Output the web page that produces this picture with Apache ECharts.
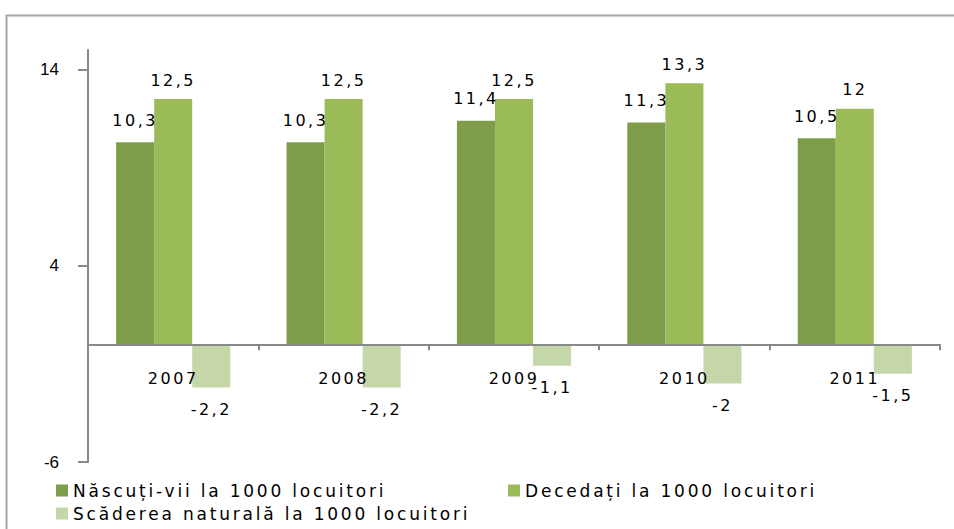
<!DOCTYPE html>
<html>
<head>
<meta charset="utf-8">
<script src="https://cdn.jsdelivr.net/npm/echarts@6/dist/echarts.min.js"></script>
<style>
  html, body { margin: 0; padding: 0; background: #fff; }
  #chart { width: 954px; height: 529px; }
  /* wide tracking for the chart text, plain tracking for the value axis */
  #chart text { letter-spacing: 2.5px; }
  #chart text[style*="17px"][style*="DejaVu"] { letter-spacing: 2.8px; }
  #chart text[style*="Liberation"] { letter-spacing: 0; }
</style>
</head>
<body>
<div id="chart"></div>
<script>
const years = ['2007', '2008', '2009', '2010', '2011'];
const nascutiVii = [10.3, 10.3, 11.4, 11.3, 10.5];
const decedati = [12.5, 12.5, 12.5, 13.3, 12];
const scadereNaturala = [-2.2, -2.2, -1.1, -2, -1.5];
const yTicks = [-6, 4, 14];

const seriesNames = [
  'Născuți-vii la 1000 locuitori',
  'Decedați la 1000 locuitori',
  'Scăderea naturală la 1000 locuitori'
];
const colors = ['#7e9c4a', '#9bbb59', '#c5d7a8'];
const FONT = 'DejaVu Sans';

const comma = p => String(p.value).replace('.', ',');

function barSeries(name, data, color, position, distance) {
  return {
    name, type: 'bar', data,
    barGap: '0%', barCategoryGap: '33%',
    itemStyle: { color },
    label: {
      show: true,
      position,
      distance,
      formatter: comma,
      color: '#000',
      fontFamily: FONT,
      fontSize: 16
    }
  };
}

const chart = echarts.init(document.getElementById('chart'), null, { renderer: 'svg' });

function legendAt(name, left, top) {
  return {
    data: [name], left, top, padding: 0,
    icon: 'rect', itemWidth: 12, itemHeight: 12,
    selectedMode: false,
    textStyle: { color: '#000', fontFamily: FONT, fontSize: 17 }
  };
}

chart.setOption({
  animation: false,
  color: colors,
  graphic: [{
    type: 'rect', left: 4, top: 13, silent: true,
    shape: { width: 980, height: 540 },
    style: { fill: 'none', stroke: '#a6a6a6', lineWidth: 2 }
  }],
  legend: [
    legendAt(seriesNames[0], 56, 482),
    legendAt(seriesNames[1], 508, 482),
    legendAt(seriesNames[2], 56, 505)
  ],
  grid: { left: 88, right: 14, top: 50, bottom: 67 },
  xAxis: {
    type: 'category',
    data: years,
    z: 5,
    axisLine: { onZero: true, lineStyle: { color: '#898989', width: 2 } },
    axisTick: { show: true, length: 6, lineStyle: { color: '#898989', width: 2 } },
    // year labels sit just under the zero line
    axisLabel: { color: '#000', fontFamily: FONT, fontSize: 16, margin: -92 }
  },
  yAxis: {
    type: 'value',
    min: -6, max: 15, interval: 10,
    splitLine: { show: false },
    axisLine: { show: true, lineStyle: { color: '#898989', width: 2 } },
    axisTick: { show: true, length: 10, customValues: yTicks, lineStyle: { color: '#898989', width: 2 } },
    axisLabel: {
      customValues: yTicks,
      color: '#000', fontFamily: 'Liberation Sans', fontSize: 17, margin: 29
    }
  },
  series: [
    barSeries(seriesNames[0], nascutiVii, colors[0], 'top', 14),
    barSeries(seriesNames[1], decedati, colors[1], 'top', 11),
    barSeries(seriesNames[2], scadereNaturala, colors[2], 'bottom', 14)
  ]
});
</script>
</body>
</html>
